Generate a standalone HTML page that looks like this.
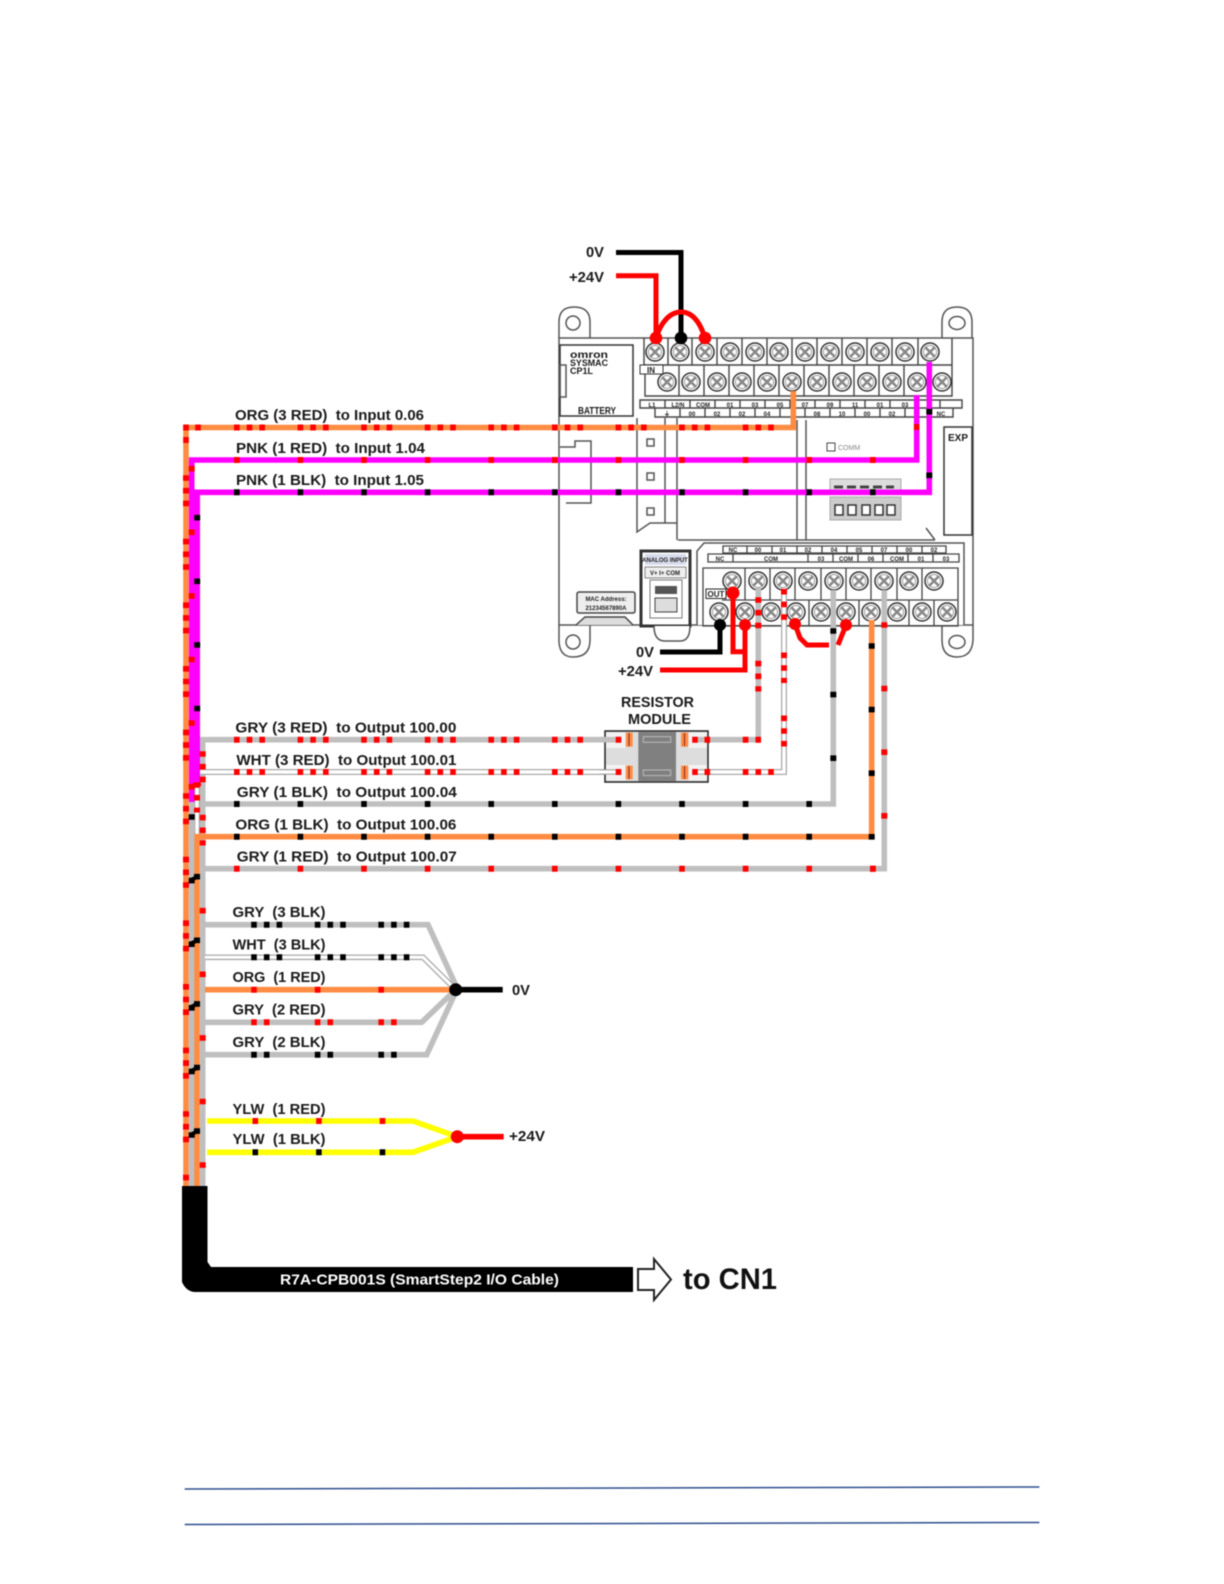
<!DOCTYPE html>
<html><head><meta charset="utf-8"><style>
html,body{margin:0;padding:0;background:#fff}
svg{display:block;filter:blur(.45px)}
text{font-family:"Liberation Sans",sans-serif;font-weight:bold;fill:#1a1a1a}
.l{font-size:15px}
.t{font-size:6px;fill:#222;text-anchor:middle}
</style></head><body>
<svg xmlns="http://www.w3.org/2000/svg" width="1224" height="1584" viewBox="0 0 1224 1584">
<defs>
<g id="s"><circle r="9" fill="#fff" stroke="#333" stroke-width="1.5"/><circle r="6.5" fill="none" stroke="#999" stroke-width="1"/><path d="M-5 -5L5 5M-5 5L5 -5" stroke="#888" stroke-width="2.6"/></g>
</defs>
<rect width="1224" height="1584" fill="#fff"/>

<!-- PLC body -->
<g fill="none" stroke="#555" stroke-width="1.5">
<path d="M559 338V322Q559 307 574 307Q590 307 590 322V338"/>
<path d="M942 338V322Q942 307 957 307Q972 307 972 322V338"/>
<path d="M559 338H973V625H559Z"/>
<path d="M559 625V642Q560 657 573 657Q590 657 590 640V625"/>
<path d="M942 625V640Q942 657 957 657Q972 657 973 640V625"/>
<circle cx="573" cy="323" r="7"/><ellipse cx="957" cy="323" rx="8" ry="6.5"/><circle cx="573" cy="642" r="7"/><ellipse cx="957" cy="642" rx="8" ry="6.5"/>
<rect x="560" y="345" width="73" height="71" stroke="#333"/>
<rect x="560" y="365" width="6" height="32"/>
<path d="M560 447H575V441H591V503H566"/>
<path d="M637 418V532L650 523H677M665 418V523M677 418V540M797 420V540M806 420V540M678 540H935M926 528L935 540"/>
<rect x="647" y="439" width="7" height="7"/><rect x="647" y="473" width="7" height="7"/><rect x="647" y="508" width="7" height="7"/>
<rect x="944" y="427" width="28" height="108" stroke="#333"/>
</g>
<rect x="827" y="443" width="8" height="8" fill="#fff" stroke="#444"/>
<text x="838" y="450" style="font-size:7px;fill:#888;font-weight:normal">COMM</text>
<text x="958" y="441" text-anchor="middle" style="font-size:10px">EXP</text>
<text x="570" y="358" style="font-size:10px" textLength="38" lengthAdjust="spacingAndGlyphs">omron</text>
<text x="570" y="366" style="font-size:9px" textLength="38" lengthAdjust="spacingAndGlyphs">SYSMAC</text>
<text x="570" y="374" style="font-size:9px">CP1L</text>
<text x="578" y="414" style="font-size:10px" textLength="38" lengthAdjust="spacingAndGlyphs">BATTERY</text>

<!-- LED blocks -->
<rect x="830" y="479" width="71" height="11" fill="#ddd" stroke="#aaa"/>
<path d="M834 487h60" stroke="#444" stroke-width="3" stroke-dasharray="9 4"/>
<rect x="830" y="497" width="71" height="23" fill="#ccc" stroke="#aaa"/>
<g fill="#fff" stroke="#333" stroke-width="1.5"><rect x="835" y="505" width="8" height="10"/><rect x="848" y="505" width="8" height="10"/><rect x="862" y="505" width="8" height="10"/><rect x="875" y="505" width="8" height="10"/><rect x="887" y="505" width="8" height="10"/></g>

<!-- Top terminals -->
<g fill="none" stroke="#444" stroke-width="1.4">
<path d="M644 338V365H952V338M645 365V396H952V365"/>
<path d="M668 338V365M692 338V365M717 338V365M742 338V365M767 338V365M792 338V365M817 338V365M842 338V365M867 338V365M892 338V365M918 338V365M679 365V396M704 365V396M729 365V396M754 365V396M779 365V396M804 365V396M829 365V396M854 365V396M879 365V396M904 365V396M929 365V396"/>
<path d="M640 400H962V408H640ZM655 408H953V417H655Z"/>
<path d="M665 400V408M690 400V408M715 400V408M740 400V408M765 400V408M790 400V408M815 400V408M840 400V408M865 400V408M890 400V408M915 400V408M940 400V408M680 408V417M705 408V417M730 408V417M755 408V417M780 408V417M805 408V417M830 408V417M855 408V417M880 408V417M905 408V417M930 408V417"/>
</g>
<g>
<use href="#s" x="655" y="352"/><use href="#s" x="680" y="352"/><use href="#s" x="705" y="352"/><use href="#s" x="730" y="352"/><use href="#s" x="755" y="352"/><use href="#s" x="779" y="352"/><use href="#s" x="805" y="352"/><use href="#s" x="830" y="352"/><use href="#s" x="855" y="352"/><use href="#s" x="880" y="352"/><use href="#s" x="905" y="352"/><use href="#s" x="930" y="352"/>
<use href="#s" x="667" y="382"/><use href="#s" x="691" y="382"/><use href="#s" x="717" y="382"/><use href="#s" x="742" y="382"/><use href="#s" x="767" y="382"/><use href="#s" x="792" y="382"/><use href="#s" x="817" y="382"/><use href="#s" x="842" y="382"/><use href="#s" x="867" y="382"/><use href="#s" x="892" y="382"/><use href="#s" x="917" y="382"/><use href="#s" x="942" y="382"/>
</g>
<rect x="640" y="365" width="23" height="9" fill="#fff" stroke="#333"/>
<text x="651" y="373" class="t" style="font-size:8px">IN</text>
<text class="t"><tspan x="652" y="407">L1</tspan><tspan x="678" y="407">L2/N</tspan><tspan x="703" y="407">COM</tspan><tspan x="730" y="407">01</tspan><tspan x="755" y="407">03</tspan><tspan x="780" y="407">05</tspan><tspan x="805" y="407">07</tspan><tspan x="830" y="407">09</tspan><tspan x="855" y="407">11</tspan><tspan x="880" y="407">01</tspan><tspan x="905" y="407">03</tspan><tspan x="667" y="416">⏚</tspan><tspan x="692" y="416">00</tspan><tspan x="717" y="416">02</tspan><tspan x="742" y="416">02</tspan><tspan x="767" y="416">04</tspan><tspan x="817" y="416">08</tspan><tspan x="842" y="416">10</tspan><tspan x="867" y="416">00</tspan><tspan x="892" y="416">02</tspan><tspan x="941" y="416">NC</tspan></text>

<!-- Analog & MAC -->
<rect x="641" y="551" width="49" height="75" fill="#fff" stroke="#333" stroke-width="3"/>
<rect x="645" y="554" width="41" height="11" fill="#d8dcec"/>
<text x="665" y="562" class="t">ANALOG INPUT</text>
<rect x="645" y="567" width="41" height="11" fill="#eee" stroke="#555" stroke-width=".7"/>
<text x="665" y="575" class="t">V+ I+ COM</text>
<rect x="650" y="580" width="32" height="38" fill="#fff" stroke="#777"/>
<rect x="655" y="586" width="22" height="8" fill="#555"/>
<rect x="655" y="598" width="22" height="14" fill="#ddd" stroke="#444"/>
<path d="M654 626Q654 641 665 641H680Q690 641 690 626" fill="#fff" stroke="#555" stroke-width="1.5"/>
<rect x="577" y="592" width="58" height="21" rx="2" fill="#eee" stroke="#444" stroke-width="1.5"/>
<text x="606" y="601" class="t">MAC Address:</text>
<text x="606" y="610" class="t">21234567890A</text>
<path d="M576 625L585 617H625L633 625" fill="#ddd" stroke="#444" stroke-width="1.5"/>

<!-- Output terminals -->
<path d="M697 625V551L704 543H964V625" fill="#fff" stroke="#555" stroke-width="1.5"/>
<g fill="none" stroke="#444" stroke-width="1.3">
<path d="M723 546H946V553H723ZM708 554H959V562H708Z"/>
<path d="M747 546v7M772 546v7M797 546v7M822 546v7M847 546v7M872 546v7M897 546v7M922 546v7M733 554v8M808 554v8M833 554v8M858 554v8M883 554v8M908 554v8M933 554v8"/>
<path d="M703 568H958V626H703ZM722 600H958M745 568V600M770 568V600M795 568V600M821 568V600M846 568V600M871 568V600M897 568V600M922 568V600M732 600V626M758 600V626M783 600V626M809 600V626M834 600V626M859 600V626M884 600V626M909 600V626M934 600V626"/>
</g>
<text class="t"><tspan x="733" y="552">NC</tspan><tspan x="758" y="552">00</tspan><tspan x="783" y="552">01</tspan><tspan x="808" y="552">02</tspan><tspan x="834" y="552">04</tspan><tspan x="859" y="552">05</tspan><tspan x="884" y="552">07</tspan><tspan x="909" y="552">00</tspan><tspan x="934" y="552">02</tspan><tspan x="720" y="561">NC</tspan><tspan x="771" y="561">COM</tspan><tspan x="821" y="561">03</tspan><tspan x="846" y="561">COM</tspan><tspan x="871" y="561">06</tspan><tspan x="897" y="561">COM</tspan><tspan x="921" y="561">01</tspan><tspan x="946" y="561">03</tspan></text>
<g>
<use href="#s" x="732" y="581"/><use href="#s" x="758" y="581"/><use href="#s" x="783" y="581"/><use href="#s" x="808" y="581"/><use href="#s" x="834" y="581"/><use href="#s" x="859" y="581"/><use href="#s" x="884" y="581"/><use href="#s" x="909" y="581"/><use href="#s" x="934" y="581"/>
<use href="#s" x="719" y="612"/><use href="#s" x="745" y="612"/><use href="#s" x="771" y="612"/><use href="#s" x="796" y="612"/><use href="#s" x="821" y="612"/><use href="#s" x="846" y="612"/><use href="#s" x="871" y="612"/><use href="#s" x="897" y="612"/><use href="#s" x="922" y="612"/><use href="#s" x="947" y="612"/>
</g>
<rect x="706" y="589" width="20" height="9.5" fill="#fff" stroke="#222"/>
<text x="716" y="597" class="t" style="font-size:8px">OUT</text>

<!-- Trunk and wires -->
<g fill="none" stroke-linejoin="miter">
<path d="M186 1186V427.5H793.3V391" stroke="#ff8c42" stroke-width="5.6"/>
<path d="M202.7 1186V739.7H758.3V588" stroke="#bfbfbf" stroke-width="5.6"/>
<path d="M197 836V772H784V588" stroke="#aaa" stroke-width="6"/>
<path d="M197 836V772H784V588" stroke="#fff" stroke-width="3.4"/>
<path d="M191.7 1186V802" stroke="#bfbfbf" stroke-width="5.6"/>
<path d="M191.7 802V460H916.7V395" stroke="#f0f" stroke-width="5.6"/>
<path d="M197.2 783V492.3H929.3V362" stroke="#f0f" stroke-width="5.6"/>
<path d="M202 804H833.3V590" stroke="#bfbfbf" stroke-width="5.6"/>
<path d="M197 1186V836.7H871.7V620" stroke="#ff8c42" stroke-width="5.6"/>
<path d="M202 868.7H884.3V590" stroke="#bfbfbf" stroke-width="5.6"/>

<!-- bundle to 0V -->
<path d="M205 924.7H428L455.7 985" stroke="#bfbfbf" stroke-width="5.6"/>
<path d="M205 957.3H423L455.7 989.7" stroke="#aaa" stroke-width="5.6"/>
<path d="M205 957.3H423L455.7 989.7" stroke="#fff" stroke-width="3"/>
<path d="M205 1022.3H421.7L455.7 989.7" stroke="#bfbfbf" stroke-width="5.6"/>
<path d="M205 1054.7H426.7L455.7 992" stroke="#bfbfbf" stroke-width="5.6"/>
<path d="M205 989.7H455.7" stroke="#ff8c42" stroke-width="5.6"/>
<path d="M455.7 989.7H502.7" stroke="#000" stroke-width="5.6"/>
<!-- yellow -->
<path d="M207 1121H413L457.3 1136.7L413 1152.3H207" stroke="#ff0" stroke-width="5.6"/>
<path d="M457.3 1136.7H503.7" stroke="#f00" stroke-width="5.6"/>
<!-- top power -->
<path d="M616 252.5H681V338" stroke="#000" stroke-width="5"/>
<path d="M616 275.7H656V338" stroke="#f00" stroke-width="5"/>
<path d="M656 338C661 322 670 312 681 312C692 312 700 322 705 338" stroke="#f00" stroke-width="5"/>
<!-- output power -->
<path d="M660 652H720V625" stroke="#000" stroke-width="5"/>
<path d="M660 670H745V625M733 593V651.7H745" stroke="#f00" stroke-width="5"/>
<path d="M795 624L800 638L807 645H829M838 645L846 625" stroke="#f00" stroke-width="5"/>
</g>
<circle cx="656" cy="338" r="6.3" fill="#f00"/><circle cx="681" cy="338" r="6.3" fill="#000"/><circle cx="705" cy="338" r="6.3" fill="#f00"/>
<circle cx="720" cy="625" r="6" fill="#000"/><circle cx="745" cy="625" r="6" fill="#f00"/><circle cx="733" cy="593" r="6.5" fill="#f00"/><circle cx="795" cy="624" r="6" fill="#f00"/><circle cx="846" cy="625" r="6" fill="#f00"/>
<circle cx="455.7" cy="989.7" r="6.5" fill="#000"/><circle cx="457.3" cy="1136.7" r="6.5" fill="#f00"/>

<!-- Dots -->
<g fill="none" stroke-width="6">
<g stroke="#f00" stroke-dasharray="5.6 7.1 5.6 7.1 5.6 32.6">
<path d="M234 427.5H790"/>
<path d="M234 739.7H761"/>
<path d="M234 772H776"/>
<path d="M186 475.2V1186"/>
<path d="M202.7 751.2V845.5"/>
<path d="M197 782.2V812.5"/>
<path d="M758.3 597.2V691.5"/>
<path d="M784 588.9V683"/>
<path d="M784 715.5V746.5"/>
</g>
<g stroke="#f00" stroke-dasharray="5.6 58">
<path d="M234 460H880"/>
<path d="M234 868.7H880"/>
<path d="M251.2 989.7H390"/>
<path d="M252.5 1121H390"/>
<path d="M191.7 465.9V800"/>
<path d="M202.7 907.9V1176"/>
<path d="M884.3 622.2V820"/>
</g>
<g stroke="#000" stroke-dasharray="5.6 58">
<path d="M234 492.3H880"/>
<path d="M234 804H815"/>
<path d="M234 836.7H815"/>
<path d="M252.5 1152.3H390"/>
<path d="M197.2 514.9V712"/>
<path d="M191.7 814.2V1176"/>
<path d="M197 873.9V1176"/>
<path d="M833.3 628.2V762"/>
<path d="M871.7 643.2V840"/>
<path d="M929.3 408.9V480"/>
</g>
<g stroke="#000" stroke-dasharray="5.6 7.1 5.6 7.1 5.6 32.6">
<path d="M251.2 924.7H410"/>
<path d="M251.2 957.3H410"/>
</g>
<g stroke="#f00" stroke-dasharray="5.6 7.1 5.6 45.3">
<path d="M251.2 1022.3H400"/>
</g>
<g stroke="#000" stroke-dasharray="5.6 7.1 5.6 45.3">
<path d="M251.2 1054.7H400"/>
</g>
<path d="M183.2 427.5h5.6M195.2 427.5h5.6M183.2 440h5.6" stroke="#f00"/>
<path d="M193 785L201 784" stroke="#f00" stroke-width="4"/>
<path d="M913.9 427h5.6M870.2 868.7h5.6" stroke="#f00"/>
<path d="M191 943.5L197 940.5M191 1007L197 1004M191 1071L197 1068M191 1135L197 1131M191 880L197 877" stroke="#000" stroke-width="4"/>
</g>

<!-- Resistor module -->
<rect x="605" y="731" width="103" height="51" fill="#ddd" stroke="#222" stroke-width="1.5"/>
<rect x="638.3" y="731.7" width="37.7" height="49.3" fill="#808080"/>
<rect x="643.3" y="736.7" width="27.4" height="5.6" fill="none" stroke="#bbb"/>
<rect x="643.3" y="770" width="27.4" height="5.6" fill="none" stroke="#bbb"/>
<path d="M606 732.5H626V748H606ZM606 765H626V780.5H606ZM688 732.5H707V748H688ZM688 765H707V780.5H688Z" fill="#f2f2f2"/>
<path d="M600 739.7H620M694 739.7H712" stroke="#bfbfbf" stroke-width="5.6"/>
<path d="M600 772H620M694 772H712" stroke="#aaa" stroke-width="5.6"/>
<path d="M600 772H620M694 772H712" stroke="#fff" stroke-width="3"/>
<rect x="625.7" y="732.7" width="7" height="14" fill="#ff8c42"/><rect x="625.7" y="765.7" width="7" height="13.6" fill="#ff8c42"/><rect x="681" y="732.7" width="7.3" height="14" fill="#ff8c42"/><rect x="681" y="765.7" width="7.3" height="13.6" fill="#ff8c42"/>
<path d="M629 733V746M629 766V779M684.5 733V746M684.5 766V779" stroke="#822" stroke-width="1"/>
<path d="M615.7 739.7h5.6M692.2 739.7h5.6M704.5 739.7h5.6M615.7 772h5.6M692.2 772h5.6M704.5 772h5.6" stroke="#f00" stroke-width="6"/>
<text x="621" y="707" style="font-size:15px" textLength="73" lengthAdjust="spacingAndGlyphs">RESISTOR</text>
<text x="628" y="724" style="font-size:15px" textLength="63" lengthAdjust="spacingAndGlyphs">MODULE</text>

<!-- Sheath -->
<path d="M182 1186H207.5V1262L211 1267H633V1292H194Q186 1291 182 1282Z" fill="#000"/>
<path d="M638 1269H654V1259L671 1279.5L654 1300V1290H638Z" fill="#fff" stroke="#222" stroke-width="2"/>
<text x="280" y="1284.5" style="font-size:15px;fill:#fff" textLength="279" lengthAdjust="spacingAndGlyphs">R7A-CPB001S (SmartStep2 I/O Cable)</text>
<text x="683" y="1289" style="font-size:30px;fill:#111" textLength="94" lengthAdjust="spacingAndGlyphs">to CN1</text>

<!-- Labels -->
<g>
<text class="l" x="586" y="257" textLength="18" lengthAdjust="spacingAndGlyphs">0V</text>
<text class="l" x="569" y="282" textLength="35" lengthAdjust="spacingAndGlyphs">+24V</text>
<text class="l" x="636" y="657" textLength="18" lengthAdjust="spacingAndGlyphs">0V</text>
<text class="l" x="618" y="676" textLength="35" lengthAdjust="spacingAndGlyphs">+24V</text>
<text class="l" x="235" y="420" textLength="189" lengthAdjust="spacingAndGlyphs" xml:space="preserve">ORG (3 RED)  to Input 0.06</text>
<text class="l" x="236" y="453" textLength="189" lengthAdjust="spacingAndGlyphs" xml:space="preserve">PNK (1 RED)  to Input 1.04</text>
<text class="l" x="236" y="485" textLength="188" lengthAdjust="spacingAndGlyphs" xml:space="preserve">PNK (1 BLK)  to Input 1.05</text>
<text class="l" x="235.4" y="732.5" textLength="221" lengthAdjust="spacingAndGlyphs" xml:space="preserve">GRY (3 RED)  to Output 100.00</text>
<text class="l" x="236.4" y="765" textLength="220" lengthAdjust="spacingAndGlyphs" xml:space="preserve">WHT (3 RED)  to Output 100.01</text>
<text class="l" x="236.8" y="797" textLength="220" lengthAdjust="spacingAndGlyphs" xml:space="preserve">GRY (1 BLK)  to Output 100.04</text>
<text class="l" x="235.4" y="829.5" textLength="221" lengthAdjust="spacingAndGlyphs" xml:space="preserve">ORG (1 BLK)  to Output 100.06</text>
<text class="l" x="236.8" y="861.5" textLength="220" lengthAdjust="spacingAndGlyphs" xml:space="preserve">GRY (1 RED)  to Output 100.07</text>
<text class="l" x="232.5" y="917" textLength="93" lengthAdjust="spacingAndGlyphs" xml:space="preserve">GRY  (3 BLK)</text>
<text class="l" x="232.5" y="949.5" textLength="93" lengthAdjust="spacingAndGlyphs" xml:space="preserve">WHT  (3 BLK)</text>
<text class="l" x="232.5" y="982" textLength="93" lengthAdjust="spacingAndGlyphs" xml:space="preserve">ORG  (1 RED)</text>
<text class="l" x="232.5" y="1014.5" textLength="93" lengthAdjust="spacingAndGlyphs" xml:space="preserve">GRY  (2 RED)</text>
<text class="l" x="232.5" y="1047" textLength="93" lengthAdjust="spacingAndGlyphs" xml:space="preserve">GRY  (2 BLK)</text>
<text class="l" x="232.5" y="1114" textLength="93" lengthAdjust="spacingAndGlyphs" xml:space="preserve">YLW  (1 RED)</text>
<text class="l" x="232.5" y="1144" textLength="93" lengthAdjust="spacingAndGlyphs" xml:space="preserve">YLW  (1 BLK)</text>
<text class="l" x="512" y="995" textLength="18" lengthAdjust="spacingAndGlyphs">0V</text>
<text class="l" x="509" y="1141" textLength="36" lengthAdjust="spacingAndGlyphs">+24V</text>
</g>

<!-- Footer rules -->
<path d="M184.7 1489L1039.4 1487" stroke="#2f4f8f" stroke-width="1.5" fill="none"/>
<path d="M184.7 1524.5L1039.4 1522.5" stroke="#2f4f8f" stroke-width="1.5" fill="none"/>
</svg>
</body></html>
